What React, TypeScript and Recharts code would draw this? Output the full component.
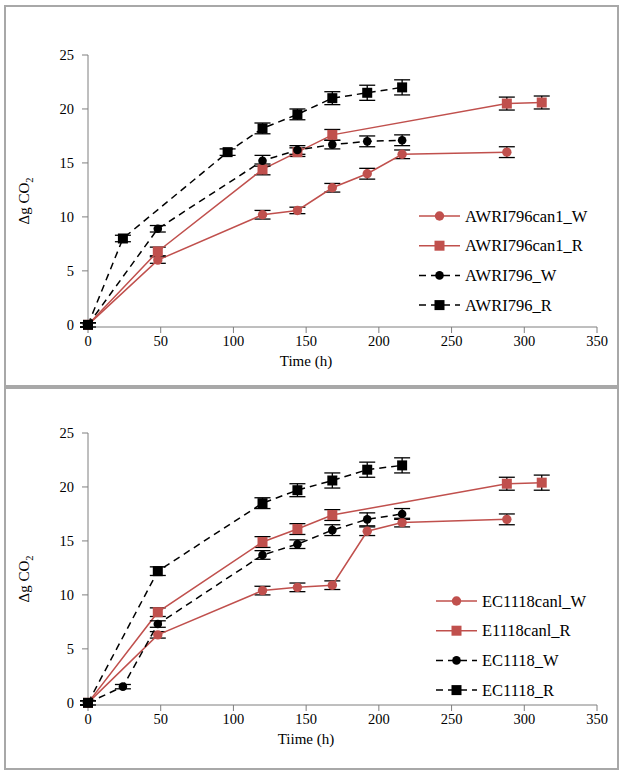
import React from 'react';
import { LineChart, Line, XAxis, YAxis, ErrorBar } from 'recharts';

const RED = '#C0504D';
const FONT = '"Liberation Serif", "Times New Roman", serif';
const AXIS = '#7f7f7f';

const xTicks = [0, 50, 100, 150, 200, 250, 300, 350];
const yTicks = [0, 5, 10, 15, 20, 25];

// top panel (AWRI796)
const awriCan1W_t = [0, 48, 120, 144, 168, 192, 216, 288];
const awriCan1W_y = [0, 6.0, 10.2, 10.6, 12.7, 14.0, 15.8, 16.0];
const awriCan1W_e = [0.2, 0.3, 0.4, 0.3, 0.4, 0.5, 0.4, 0.5];

const awriCan1R_t = [0, 48, 120, 144, 168, 288, 312];
const awriCan1R_y = [0, 6.8, 14.4, 16.0, 17.6, 20.5, 20.6];
const awriCan1R_e = [0.2, 0.4, 0.5, 0.4, 0.5, 0.6, 0.6];

const awriW_t = [0, 48, 120, 144, 168, 192, 216];
const awriW_y = [0, 8.9, 15.2, 16.2, 16.7, 17.0, 17.1];
const awriW_e = [0.2, 0.3, 0.5, 0.4, 0.4, 0.5, 0.5];

const awriR_t = [0, 24, 96, 120, 144, 168, 192, 216];
const awriR_y = [0, 8.0, 16.0, 18.2, 19.5, 21.0, 21.5, 22.0];
const awriR_e = [0.2, 0.3, 0.3, 0.5, 0.5, 0.6, 0.7, 0.7];

// bottom panel (EC1118)
const ecCan1W_t = [0, 48, 120, 144, 168, 192, 216, 288];
const ecCan1W_y = [0, 6.3, 10.4, 10.7, 10.9, 15.9, 16.7, 17.0];
const ecCan1W_e = [0.2, 0.3, 0.4, 0.4, 0.4, 0.4, 0.4, 0.5];

const ecCan1R_t = [0, 48, 120, 144, 168, 288, 312];
const ecCan1R_y = [0, 8.4, 14.9, 16.1, 17.4, 20.3, 20.4];
const ecCan1R_e = [0.2, 0.4, 0.5, 0.5, 0.5, 0.6, 0.7];

const ecW_t = [0, 24, 48, 120, 144, 168, 192, 216];
const ecW_y = [0, 1.5, 7.3, 13.7, 14.7, 16.0, 17.0, 17.5];
const ecW_e = [0.2, 0.2, 0.3, 0.4, 0.4, 0.5, 0.6, 0.5];

const ecR_t = [0, 48, 120, 144, 168, 192, 216];
const ecR_y = [0, 12.2, 18.5, 19.7, 20.6, 21.6, 22.0];
const ecR_e = [0.2, 0.4, 0.5, 0.6, 0.7, 0.7, 0.7];

const zip = (t: number[], y: number[], e: number[]) =>
  t.map((x, i) => ({ t: x, y: y[i], e: e[i] }));

type Series = {
  name: string;
  data: { t: number; y: number; e: number }[];
  color: string;
  dashed: boolean;
  shape: 'circle' | 'square';
};

const topSeries: Series[] = [
  { name: 'AWRI796can1_W', data: zip(awriCan1W_t, awriCan1W_y, awriCan1W_e), color: RED, dashed: false, shape: 'circle' },
  { name: 'AWRI796can1_R', data: zip(awriCan1R_t, awriCan1R_y, awriCan1R_e), color: RED, dashed: false, shape: 'square' },
  { name: 'AWRI796_W', data: zip(awriW_t, awriW_y, awriW_e), color: '#000', dashed: true, shape: 'circle' },
  { name: 'AWRI796_R', data: zip(awriR_t, awriR_y, awriR_e), color: '#000', dashed: true, shape: 'square' },
];

const bottomSeries: Series[] = [
  { name: 'EC1118canl_W', data: zip(ecCan1W_t, ecCan1W_y, ecCan1W_e), color: RED, dashed: false, shape: 'circle' },
  { name: 'E1118canl_R', data: zip(ecCan1R_t, ecCan1R_y, ecCan1R_e), color: RED, dashed: false, shape: 'square' },
  { name: 'EC1118_W', data: zip(ecW_t, ecW_y, ecW_e), color: '#000', dashed: true, shape: 'circle' },
  { name: 'EC1118_R', data: zip(ecR_t, ecR_y, ecR_e), color: '#000', dashed: true, shape: 'square' },
];

const Marker = ({ cx, cy, s }: { cx: number; cy: number; s: Series }) =>
  s.shape === 'circle' ? (
    <circle cx={cx} cy={cy} r={s.dashed ? 4.3 : 4.7} fill={s.color} />
  ) : (
    <rect x={cx - 5} y={cy - 5} width={10} height={10} fill={s.color} />
  );

const makeDot = (s: Series) => (p: any) =>
  <Marker key={`${s.name}-${p.index}`} cx={p.cx} cy={p.cy} s={s} />;

// legend drawn next to the chart, from the same series list
const SeriesLegend = ({ series, left, top }: { series: Series[]; left: number; top: number }) => (
  <svg width={200} height={125} style={{ position: 'absolute', left, top, overflow: 'visible' }}>
    {series.map((s, i) => {
      const y = 10 + i * 29.7;
      return (
        <g key={s.name}>
          <line x1={0} x2={41} y1={y} y2={y} stroke={s.color} strokeWidth={1.5}
            strokeDasharray={s.dashed ? '7 5' : undefined} />
          <Marker cx={20.5} cy={y} s={s} />
          <text x={46} y={y} dominantBaseline="central" fontFamily={FONT} fontSize={16.5} fill="#000">
            {s.name}
          </text>
        </g>
      );
    })}
  </svg>
);

type PanelProps = {
  series: Series[];
  top: number;
  plotTop: number;
  xTitle: string;
  legendLeft: number;
  legendTop: number;
  titleX: number;
};

const Panel = ({ series, top, plotTop, xTitle, legendLeft, legendTop, titleX }: PanelProps) => (
  <div style={{ position: 'absolute', left: 0, top, width: 622, height: 385, fontFamily: FONT }}>
    <LineChart
      width={622}
      height={385}
      margin={{ top: plotTop, right: 25, left: 48, bottom: 385 - plotTop - 272 - 40 }}
    >
      <XAxis
        type="number"
        dataKey="t"
        domain={[0, 350]}
        ticks={xTicks}
        height={40}
        stroke={AXIS}
        tickSize={6}
        tickMargin={3}
        tick={{ fill: '#000', fontSize: 14.5, fontFamily: FONT }}
        label={{
          content: (p: any) => (
            <text x={titleX} y={p.viewBox.y + 39} textAnchor="middle" fontFamily={FONT} fontSize={15} fill="#000">
              {xTitle}
            </text>
          ),
        }}
      />
      <YAxis
        type="number"
        domain={[0, 25]}
        ticks={yTicks}
        width={40}
        stroke={AXIS}
        tickSize={6}
        tickMargin={8}
        tick={{ fill: '#000', fontSize: 14.5, fontFamily: FONT }}
        label={{
          content: (p: any) => {
            const cx = 24;
            const cy = p.viewBox.y + p.viewBox.height / 2 + 10;
            return (
              <text transform={`rotate(-90, ${cx}, ${cy})`} x={cx} y={cy} textAnchor="middle"
                dominantBaseline="central" fontFamily={FONT} fontSize={15} fill="#000">
                Δg CO<tspan baselineShift="sub" fontSize={10.5}>2</tspan>
              </text>
            );
          },
        }}
      />
      {series.map((s) => (
        <Line
          key={s.name}
          name={s.name}
          data={s.data}
          dataKey="y"
          type="linear"
          stroke={s.color}
          strokeWidth={1.5}
          strokeDasharray={s.dashed ? '7 5' : undefined}
          dot={makeDot(s)}
          activeDot={false}
          isAnimationActive={false}
        >
          <ErrorBar dataKey="e" direction="y" width={8} stroke="#000" strokeWidth={1.3} />
        </Line>
      ))}
    </LineChart>
    <SeriesLegend series={series} left={legendLeft} top={legendTop} />
  </div>
);

export default function App() {
  return (
    <div style={{ position: 'absolute', left: 0, top: 0, width: 622, height: 775, background: '#fff' }}>
      <div style={{ position: 'absolute', left: 4, top: 5, width: 611, height: 380, border: '2px solid #a8a8a8' }} />
      <div style={{ position: 'absolute', left: 4, top: 385, width: 611, height: 381, border: '2px solid #a8a8a8' }} />
      <Panel series={topSeries} top={0} plotTop={55} xTitle="Time (h)" legendLeft={419} legendTop={206} titleX={306} />
      <Panel series={bottomSeries} top={385} plotTop={48} xTitle="Tiime (h)" legendLeft={436} legendTop={206} titleX={306} />
    </div>
  );
}
